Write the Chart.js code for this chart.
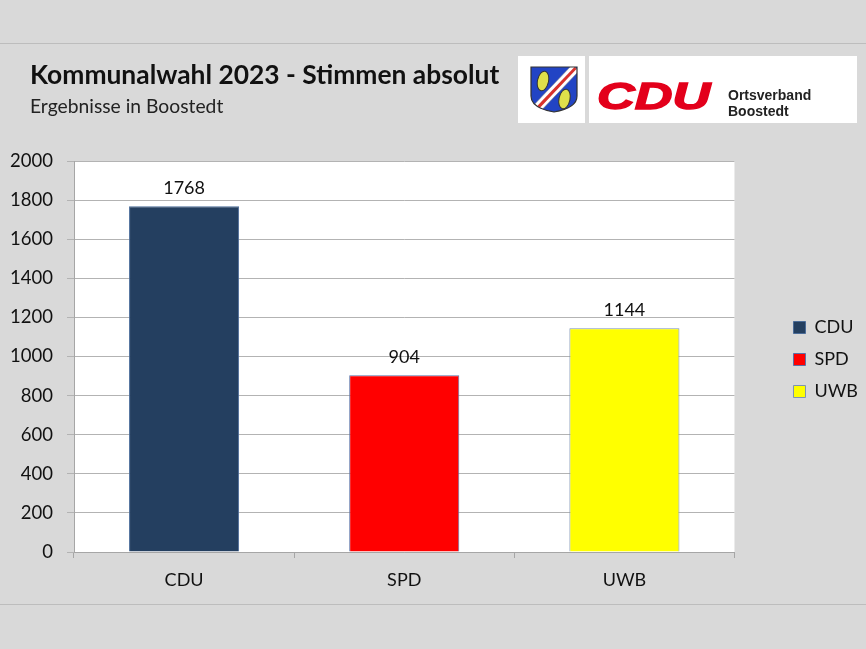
<!DOCTYPE html>
<html>
<head>
<meta charset="utf-8">
<script src="https://cdn.jsdelivr.net/npm/chart.js@4.4.1/dist/chart.umd.min.js"></script>
<style>
  html,body{margin:0;padding:0;background:#d9d9d9;}
  #wrap{position:relative;width:866px;height:649px;overflow:hidden;background:#d9d9d9;}
  .hline{position:absolute;left:0;width:866px;height:1px;background:#bdbdbd;}
  #title{position:absolute;left:30px;top:58px;font-family:Lato,sans-serif;font-weight:700;font-size:26.4px;color:#111;white-space:nowrap;}
  #sub{position:absolute;left:30px;top:94px;font-family:Lato,sans-serif;font-size:19.3px;color:#222;white-space:nowrap;}
  #logo1{position:absolute;left:518px;top:56px;width:67px;height:67px;background:#fff;}
  #logo2{position:absolute;left:589px;top:56px;width:268px;height:67px;background:#fff;}
  #cdu{position:absolute;left:8px;top:20px;font-family:"Liberation Sans",Arial,sans-serif;font-weight:700;font-style:italic;font-size:36px;line-height:41px;color:#e3001b;transform:scaleX(1.45);transform-origin:left top;-webkit-text-stroke:1.4px #e3001b;}
  #ov{position:absolute;left:139px;top:31px;font-family:"Liberation Sans",Arial,sans-serif;font-weight:700;font-size:14px;line-height:16px;color:#222;}
  canvas{position:absolute;left:0;top:0;}
</style>
</head>
<body>
<div id="wrap">
  <div class="hline" style="top:43px"></div>
  <div class="hline" style="top:604px"></div>
  <canvas id="c" width="866" height="649"></canvas>
  <div id="title">Kommunalwahl 2023 - Stimmen absolut</div>
  <div id="sub">Ergebnisse in Boostedt</div>
  <div id="logo1">
    <svg width="67" height="67" viewBox="0 0 67 67">
      <defs>
        <clipPath id="sh"><path d="M13 11 L59 11 L59 40 Q59 52 36 56 Q13 52 13 40 Z"/></clipPath>
      </defs>
      <g clip-path="url(#sh)">
        <rect x="0" y="0" width="67" height="67" fill="#2244c4"/>
        <polygon points="54,9 61,15 18,60 11,54" fill="#ffffff" stroke="#888" stroke-width="0.6"/>
        <polygon points="56.5,11 58.5,13 16,58 13.5,56" fill="#d8322c"/>
        <ellipse cx="25" cy="25" rx="5.5" ry="10" fill="#dfe04a" stroke="#333" stroke-width="1" transform="rotate(12 25 25)"/>
        <ellipse cx="46.5" cy="43" rx="5.5" ry="10" fill="#dfe04a" stroke="#333" stroke-width="1" transform="rotate(12 46.5 43)"/>
      </g>
      <path d="M13 11 L59 11 L59 40 Q59 52 36 56 Q13 52 13 40 Z" fill="none" stroke="#333" stroke-width="1.2"/>
    </svg>
  </div>
  <div id="logo2">
    <div id="cdu">CDU</div>
    <div id="ov">Ortsverband<br>Boostedt</div>
  </div>
</div>
<script>
const categories = ["CDU", "SPD", "UWB"];
const votes = [1768, 904, 1144];
const barColors = ["#243f60", "#ff0000", "#ffff00"];
const yTicks = [0, 200, 400, 600, 800, 1000, 1200, 1400, 1600, 1800, 2000];

const FONT = "Lato, sans-serif";

const plotBg = {
  id: "plotBg",
  beforeDraw(chart) {
    const a = chart.chartArea, ctx = chart.ctx;
    ctx.save();
    ctx.fillStyle = "#ffffff";
    ctx.fillRect(a.left, a.top, a.right - a.left, a.bottom - a.top);
    ctx.restore();
  }
};

const valueLabels = {
  id: "valueLabels",
  afterDatasetsDraw(chart) {
    const ctx = chart.ctx;
    const meta = chart.getDatasetMeta(0);
    ctx.save();
    ctx.font = "18px " + FONT;
    ctx.fillStyle = "#111";
    ctx.textAlign = "center";
    ctx.textBaseline = "middle";
    meta.data.forEach((bar, i) => {
      ctx.fillText(String(chart.data.datasets[0].data[i]), bar.x, bar.y - 18.5);
    });
    ctx.restore();
  }
};

new Chart(document.getElementById("c"), {
  type: "bar",
  data: {
    labels: categories,
    datasets: [{
      data: votes,
      backgroundColor: barColors,
      borderColor: ["#4a6c99", "#5a72a8", "#7d93b5"],
      borderWidth: 1,
      barPercentage: 0.5,
      categoryPercentage: 1.0
    }]
  },
  options: {
    responsive: false,
    animation: false,
    devicePixelRatio: 1,
    layout: { padding: { top: 161, left: 0, right: -2, bottom: 57 } },
    scales: {
      x: {
        grid: { drawOnChartArea: false, drawTicks: true, tickLength: 6, color: "#a6a6a6", offset: true },
        border: { display: true, color: "#a6a6a6" },
        ticks: { color: "#111", font: { family: FONT, size: 18 }, padding: 11 },
        afterFit(s) { s.height = 40; }
      },
      y: {
        min: 0, max: 2000,
        afterBuildTicks(s) { s.ticks = yTicks.map(v => ({ value: v })); },
        grid: { color: "#b3b3b3", tickLength: 7, drawTicks: true },
        border: { display: true, color: "#a6a6a6" },
        ticks: { color: "#111", font: { family: FONT, size: 18.5 }, padding: 14, callback: v => String(v) },
        afterFit(s) { s.width = 74; }
      },
      spacer: {
        type: "linear",
        position: "right",
        display: true,
        grid: { display: false, drawTicks: false },
        border: { display: false },
        ticks: { display: false },
        afterFit(s) { s.width = 45; }
      }
    },
    plugins: {
      legend: {
        position: "right",
        fullSize: false,
        title: { display: true, text: " ", font: { size: 6, lineHeight: 1 }, padding: 0 },
        labels: {
          boxWidth: 12,
          boxHeight: 12,
          padding: 14,
          color: "#111",
          font: { family: FONT, size: 18, lineHeight: 1.3 },
          generateLabels(chart) {
            const ds = chart.data.datasets[0];
            return chart.data.labels.map((l, i) => ({
              text: l,
              fillStyle: ds.backgroundColor[i],
              strokeStyle: ds.borderColor[i],
              lineWidth: 1,
              fontColor: "#111",
              hidden: false,
              index: i
            }));
          }
        }
      },
      tooltip: { enabled: false },
      title: { display: false }
    }
  },
  plugins: [plotBg, valueLabels]
});
</script>
</body>
</html>
